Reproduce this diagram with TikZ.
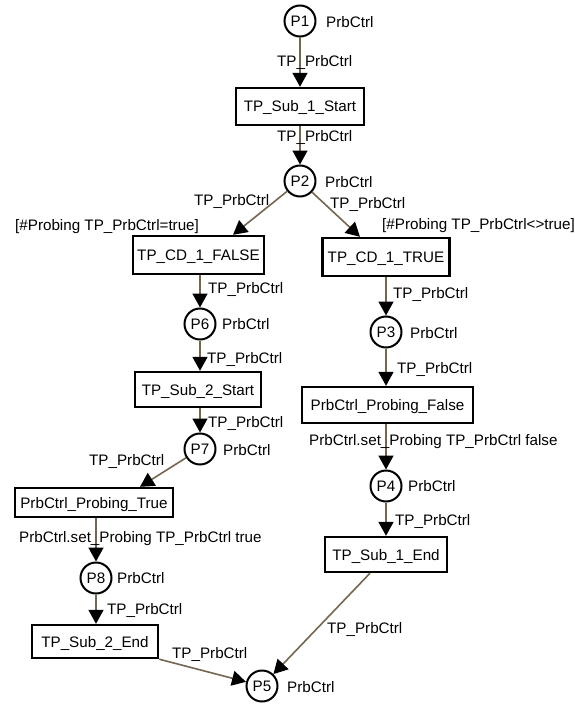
\documentclass[tikz,border=0pt]{standalone}
\usepackage{fontspec}
\setmainfont{Liberation Sans}
\usetikzlibrary{arrows.meta}
\definecolor{arccol}{HTML}{756650}

\begin{document}
\begin{tikzpicture}[x=1pt,y=-1pt,
  font=\fontsize{15.2}{18}\selectfont,
  place/.style={circle,draw=black,line width=2pt,fill=white,minimum size=31pt,
    inner sep=0pt,text height=11pt,text depth=0pt},
  trans/.style={rectangle,draw=black,line width=2.4pt,fill=white,inner sep=0pt,
    text height=11pt,text depth=0pt},
  lbl/.style={anchor=base west,inner sep=0pt,yshift=-5.5pt},
  arc/.style={draw=arccol,line width=1.6pt,
    -{Triangle[length=14pt,width=15pt,color=black]}},
]
\fill[white] (0,0) rectangle (574,706);
\useasboundingbox (0,0) rectangle (574,706);

% places
\node[place] (P1) at (300,21)  {P1};
\node[place] (P2) at (300,181) {P2};
\node[place] (P6) at (200,324) {P6};
\node[place] (P7) at (200,449) {P7};
\node[place] (P8) at (96,578)  {P8};
\node[place] (P3) at (386,332) {P3};
\node[place] (P4) at (386,486) {P4};
\node[place] (P5) at (262,686) {P5};

% transitions
\node[trans,minimum width=128pt,minimum height=37pt] (s1s) at (300,106.5) {TP\_Sub\_1\_Start};
\node[trans,minimum width=131pt,minimum height=38pt] (cdf) at (198.5,255) {TP\_CD\_1\_FALSE};
\node[trans,minimum width=127pt,minimum height=38pt] (cdt) at (386,257) {TP\_CD\_1\_TRUE};
\node[trans,minimum width=126pt,minimum height=35pt] (s2s) at (198,389.5) {TP\_Sub\_2\_Start};
\node[trans,minimum width=158pt,minimum height=29pt] (ptr) at (94,502.5) {PrbCtrl\_Probing\_True};
\node[trans,minimum width=126pt,minimum height=33pt] (s2e) at (95,641.5) {TP\_Sub\_2\_End};
\node[trans,minimum width=171pt,minimum height=36pt] (pfa) at (387.5,405) {PrbCtrl\_Probing\_False};
\node[trans,minimum width=122pt,minimum height=35pt] (s1e) at (386,554.5) {TP\_Sub\_1\_End};

% arcs
\draw[arc] (P1) -- (s1s);
\draw[arc] (s1s) -- (P2);
\draw[arc] (P2) -- ([xshift=34.5pt]cdf.north);
\draw[arc] (P2) -- ([xshift=-26pt]cdt.north);
\draw[arc] (P6 |- cdf.south) -- (P6);
\draw[arc] (P6) -- (P6 |- s2s.north);
\draw[arc] (P7 |- s2s.south) -- (P7);
\draw[arc] (P7) -- ([xshift=46pt]ptr.north);
\draw[arc] (P8 |- ptr.south) -- (P8);
\draw[arc] (P8) -- (P8 |- s2e.north);
\draw[arc] (s2e.south east) -- (P5);
\draw[arc] (cdt) -- (P3);
\draw[arc] (P3) -- (P3 |- pfa.north);
\draw[arc] (P4 |- pfa.south) -- (P4);
\draw[arc] (P4) -- (s1e);
\draw[arc] ([xshift=-16pt]s1e.south) -- (P5);

% place labels
\node[lbl] (lP1) at (326,22)  {PrbCtrl};
\node[lbl] (lP2) at (325,182) {PrbCtrl};
\node[lbl] (lP6) at (222,324) {PrbCtrl};
\node[lbl] (lP7) at (223,450) {PrbCtrl};
\node[lbl] (lP8) at (117,578) {PrbCtrl};
\node[lbl] (lP3) at (410,333) {PrbCtrl};
\node[lbl] (lP4) at (408,486) {PrbCtrl};
\node[lbl] (lP5) at (287,687) {PrbCtrl};

% arc inscriptions and guards
\node[lbl] (a1)  at (277,61)  {TP\_PrbCtrl};
\node[lbl] (a2)  at (277,136) {TP\_PrbCtrl};
\node[lbl] (a3)  at (194,200) {TP\_PrbCtrl};
\node[lbl] (a4)  at (330,203) {TP\_PrbCtrl};
\node[lbl] (g1)  at (15,225)  {[\#Probing TP\_PrbCtrl=true]};
\node[lbl] (g2)  at (382,224) {[\#Probing TP\_PrbCtrl<>true]};
\node[lbl] (a5)  at (208,288) {TP\_PrbCtrl};
\node[lbl] (a6)  at (207,358) {TP\_PrbCtrl};
\node[lbl] (a7)  at (208,422) {TP\_PrbCtrl};
\node[lbl] (a8)  at (89,460)  {TP\_PrbCtrl};
\node[lbl] (a9)  at (19,537)  {PrbCtrl.set\_Probing TP\_PrbCtrl true};
\node[lbl] (a10) at (107,609) {TP\_PrbCtrl};
\node[lbl] (a11) at (172,653) {TP\_PrbCtrl};
\node[lbl] (a12) at (393,293) {TP\_PrbCtrl};
\node[lbl] (a13) at (397,368) {TP\_PrbCtrl};
\node[lbl] (a14) at (309,440) {PrbCtrl.set\_Probing TP\_PrbCtrl false};
\node[lbl] (a15) at (395,520) {TP\_PrbCtrl};
\node[lbl] (a16) at (327,628) {TP\_PrbCtrl};
\end{tikzpicture}
\end{document}
